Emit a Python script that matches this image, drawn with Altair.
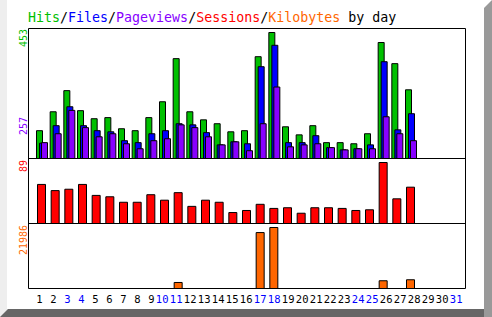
import altair as alt
import pandas as pd

# ---------------- data ----------------
days = list(range(1, 32))
hits = [100, 168, 244, 172, 143, 147, 107, 100, 147, 204, 359, 168, 139, 125, 96, 100,
        366, 453, 114, 85, 118, 57, 57, 53, 89, 417, 341, 247, 0, 0, 0]
files = [55, 118, 186, 118, 100, 96, 64, 57, 89, 100, 125, 121, 93, 49, 60, 53,
         330, 407, 57, 57, 82, 39, 31, 35, 49, 348, 103, 161, 0, 0, 0]
pages = [57, 89, 173, 111, 78, 89, 53, 35, 64, 71, 121, 111, 78, 49, 60, 28,
         125, 257, 42, 49, 53, 39, 31, 35, 35, 150, 89, 64, 0, 0, 0]
sessions = [57, 48, 50, 57, 41, 39, 31, 31, 42, 34, 45, 25, 34, 31, 16, 19,
            28, 22, 23, 15, 23, 23, 22, 19, 20, 89, 36, 53, 0, 0, 0]
kbytes = [0, 0, 0, 0, 0, 0, 0, 0, 0, 0, 2172, 0, 0, 0, 0, 0,
          20160, 21986, 0, 0, 0, 0, 0, 0, 0, 2790, 0, 3150, 0, 0, 0]
weekend_days = [3, 4, 10, 11, 17, 18, 24, 25, 31]

title_parts = ["Hits", "/", "Files", "/", "Pageviews", "/", "Sessions", "/", "Kilobytes", " by day"]

# ---------------- styles ----------------
GREEN = "#00c000"
BLUE = "#0000ff"
PURPLE = "#8800ff"
RED = "#ff0000"
ORANGE = "#ff6600"
MONO = "DejaVu Sans Mono"
TITLE_SIZE = 13.3
title_colors = [GREEN, "#000000", BLUE, "#000000", PURPLE, "#000000", RED, "#000000", ORANGE, "#000000"]

W, H = 492, 317
xs = alt.Scale(domain=[1, 31], range=[31, 451], nice=False, zero=False)
y_top = alt.Scale(domain=[0, 453], range=[158.5, 32.5], nice=False, zero=False)
y_mid = alt.Scale(domain=[0, 89], range=[223.5, 162.5], nice=False, zero=False)
y_bot = alt.Scale(domain=[0, 21986], range=[288.5, 227.5], nice=False, zero=False)


def bars(values, color, yscale, xoff, w):
    df = pd.DataFrame({"day": days, "v": values})
    return (
        alt.Chart(df)
        .transform_filter("datum.v > 0")
        .mark_bar(orient="vertical", width=w, xOffset=xoff, fill=color,
                  stroke="black", strokeWidth=1, opacity=1)
        .encode(
            x=alt.X("day:Q", scale=xs, axis=None),
            y=alt.Y("v:Q", scale=yscale, axis=None),
            y2=alt.datum(0),
        )
    )


def rect(x1, x2, y1, y2, color):
    return alt.Chart(pd.DataFrame({"a": [0]})).mark_rect(fill=color, stroke=None).encode(
        x=alt.value(x1), x2=alt.value(x2), y=alt.value(y1), y2=alt.value(y2))


def rule(x1, x2, y1, y2):
    return alt.Chart(pd.DataFrame({"a": [0]})).mark_rule(color="black", strokeWidth=1).encode(
        x=alt.value(x1), x2=alt.value(x2), y=alt.value(y1), y2=alt.value(y2))


def tri(path, cx, cy, color):
    return alt.Chart(pd.DataFrame({"a": [0]})).mark_point(
        shape=path, size=64, filled=True, fill=color, stroke=None, opacity=1, strokeWidth=0
    ).encode(x=alt.value(cx), y=alt.value(cy))


def vlabel(text, color, ytop):
    return alt.Chart(pd.DataFrame({"t": [text]})).mark_text(
        angle=270, align="right", baseline="alphabetic", font=MONO, fontSize=10, color=color
    ).encode(x=alt.value(27), y=alt.value(ytop), text="t:N")


# frame (3D border)
LIGHT, MID, DARK = "#eeeeee", "#999999", "#666666"
frame = [
    rect(0, 7, 0, 317, LIGHT),
    rect(0, 492, 309, 317, DARK),
    rect(484, 492, 8, 317, MID),
    tri("M-1,-1 L1,-1 L-1,1 Z", 4, 313, LIGHT),
    tri("M-1,-1 L1,-1 L1,1 Z", 488, 313, MID),
    tri("M1,-1 L1,1 L-1,1 Z", 488, 4, MID),
]

# title, built of colored segments placed by character position (monospace)
rows = []
pos = 0
for part, col in zip(title_parts, title_colors):
    lead = len(part) - len(part.lstrip(" "))
    rows.append({"t": part.lstrip(" "), "c": col, "p": pos + lead})
    pos += len(part)
adv = 0.602 * TITLE_SIZE
title = alt.Chart(pd.DataFrame(rows)).mark_text(
    align="left", baseline="alphabetic", font=MONO, fontSize=TITLE_SIZE
).encode(
    x=alt.X("p:Q", scale=alt.Scale(domain=[0, pos], range=[28, 28 + pos * adv], nice=False, zero=False), axis=None),
    y=alt.value(22),
    text="t:N",
    color=alt.Color("c:N", scale=None),
)

# day labels
lab = pd.DataFrame({
    "day": days,
    "t": [str(d) for d in days],
    "c": [BLUE if d in weekend_days else "#000000" for d in days],
})
daylabels = alt.Chart(lab).mark_text(
    align="right", baseline="alphabetic", font=MONO, fontSize=10.5, dx=11.5
).encode(
    x=alt.X("day:Q", scale=xs, axis=None),
    y=alt.value(303),
    text="t:N",
    color=alt.Color("c:N", scale=None),
)

layers = frame + [
    bars(hits, GREEN, y_top, 3.5, 6),
    bars(files, BLUE, y_top, 6.5, 6),
    bars(pages, PURPLE, y_top, 8.5, 6),
    bars(sessions, RED, y_mid, 5.5, 8),
    bars(kbytes, ORANGE, y_bot, 5.5, 8),
    # box and panel separators
    rule(28.5, 465.5, 28.5, 28.5),
    rule(28.5, 465.5, 158.5, 158.5),
    rule(28.5, 465.5, 223.5, 223.5),
    rule(28.5, 465.5, 288.5, 288.5),
    rule(28.5, 28.5, 28.5, 288.5),
    rule(465.5, 465.5, 28.5, 288.5),
    title,
    daylabels,
    vlabel("453", GREEN, 29),
    vlabel("257", PURPLE, 117),
    vlabel("89", RED, 160),
    vlabel("21986", ORANGE, 225),
]

chart = (
    alt.layer(*layers)
    .resolve_scale(y="independent", x="independent")
    .properties(width=W, height=H, autosize=alt.AutoSizeParams(type="none"), padding=0,
                background="white")
    .configure_view(strokeWidth=0)
)

chart.save("out.html", embed_options={"renderer": "svg", "actions": False})
